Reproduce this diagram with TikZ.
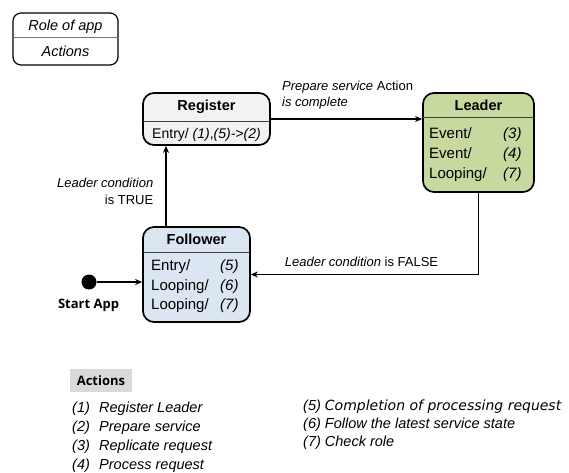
\documentclass[tikz,border=0pt]{standalone}
\usepackage{fontspec}
\setmainfont{Liberation Sans}
\newfontfamily\osansfont{Open Sans}
\newfontfamily\dvsfont{DejaVu Sans}
\usetikzlibrary{arrows.meta}
\definecolor{regfill}{HTML}{F2F2F2}
\definecolor{leadfill}{RGB}{199,217,158}
\definecolor{folfill}{HTML}{DCE6F2}
\definecolor{headgray}{HTML}{D9D9D9}
\begin{document}
\begin{tikzpicture}[x=1pt,y=-1pt,
  statebox/.style={draw, line width=1.7pt, rounded corners=11pt, inner sep=0pt},
  keybox/.style={draw, line width=1.2pt, rounded corners=8pt, inner sep=0pt},
  divider/.style={line width=0.7pt, black!75},
  conn/.style={line width=1.4pt, -{Stealth[length=7pt,width=6pt]}},
  title/.style={font=\bfseries\fontsize{14.5}{17}\selectfont, inner sep=0pt, anchor=base},
  body/.style={font=\fontsize{15}{17}\selectfont, inner sep=0pt, anchor=base west},
  num/.style={font=\itshape\fontsize{15}{17}\selectfont, inner sep=0pt, anchor=base west},
  lbl/.style={font=\fontsize{13}{16.5}\selectfont, inner sep=0pt},
]
\useasboundingbox (0,0) rectangle (569,472);

% key box
\node[keybox, minimum width=105pt, minimum height=52pt] (key) at (65.5,39) {};
\draw[divider, line width=0.6pt, black!55] (13,37.5) -- (118,37.5);
\node[font=\itshape\fontsize{14.5}{17}\selectfont, inner sep=0pt, anchor=base] (keyrole) at (65.5,30) {Role of app};
\node[font=\itshape\fontsize{14.5}{17}\selectfont, inner sep=0pt, anchor=base] (keyact) at (65.5,56) {Actions};

% Register
\node[statebox, fill=regfill, minimum width=127pt, minimum height=52pt] (reg) at (206.5,119) {};
\draw[divider] (143,121.5) -- (270,121.5);
\node[title] (regtitle) at (206.5,110) {Register};
\node[font=\fontsize{14}{17}\selectfont, inner sep=0pt, anchor=base] (regentry) at (206.5,138) {Entry/ \textit{(1)},\textit{(5)->(2)}};

% Leader
\node[statebox, fill=leadfill, minimum width=111pt, minimum height=99pt] (lead) at (478.5,142.5) {};
\draw[divider] (423,117.5) -- (534,117.5);
\node[title] (leadtitle) at (478.5,110) {Leader};
\node[body] (leadev1) at (429,138) {Event/};
\node[num] (leadn3) at (503,138) {(3)};
\node[body] (leadev2) at (429,158) {Event/};
\node[num] (leadn4) at (503,158) {(4)};
\node[body] (leadloop) at (429,178) {Looping/};
\node[num] (leadn7) at (503,178) {(7)};

% Follower
\node[statebox, fill=folfill, minimum width=107pt, minimum height=95pt] (fol) at (196.5,274.5) {};
\draw[divider] (143,252) -- (250,252);
\node[title] (foltitle) at (196.5,244) {Follower};
\node[body] (folentry) at (151,270) {Entry/};
\node[num] (foln5) at (220,270) {(5)};
\node[body] (folloop1) at (151,290) {Looping/};
\node[num] (foln6) at (220,290) {(6)};
\node[body] (folloop2) at (151,309) {Looping/};
\node[num] (foln7) at (220,309) {(7)};

% start
\node[circle, fill=black, minimum size=15pt, inner sep=0pt] (start) at (89,282) {};
\node[font=\osansfont\bfseries\fontsize{13}{15}\selectfont, inner sep=0pt] (startlbl) at (88.5,305) {Start App};

% connectors
\coordinate (fup) at (166,227);
\draw[conn] (reg.east) -- (reg.east -| lead.west);
\draw[conn] (fup) -- (fup |- reg.south);
\draw[conn] (lead.south) |- (fol.east);
\draw[conn] (start) -- (start -| fol.west);

% labels
\node[lbl, align=left, anchor=west] (prepl) at (282,95) {\textit{Prepare service} Action\\\textit{is complete}};
\node[lbl, align=right, anchor=east] (truel) at (153.5,191.5) {\textit{Leader condition}\\is TRUE};
\node[lbl] (falsel) at (361.5,262) {\textit{Leader condition} is FALSE};

% actions legend
\node[fill=headgray, minimum width=62pt, minimum height=23pt, inner sep=0pt, font=\osansfont\bfseries\fontsize{13}{15}\selectfont] (acthead) at (101,380.5) {Actions};
\node[inner sep=0pt, anchor=base west, font=\itshape\fontsize{14.5}{19}\selectfont] (actleft) at (72,412)
 {\begin{tabular}[t]{@{}l@{\hspace{9.3pt}}l@{}}
 (1) & Register Leader\\
 (2) & Prepare service\\
 (3) & Replicate request\\
 (4) & Process request
 \end{tabular}};
\node[inner sep=0pt, anchor=base west, font=\itshape\fontsize{14.5}{18}\selectfont] (actright) at (303,410)
 {\begin{tabular}[t]{@{}l@{}}
 (5) {\dvsfont\itshape\fontsize{14}{18}\selectfont Completion of processing request}\\
 (6) Follow the latest service state\\
 (7) Check role
 \end{tabular}};
\end{tikzpicture}
\end{document}
